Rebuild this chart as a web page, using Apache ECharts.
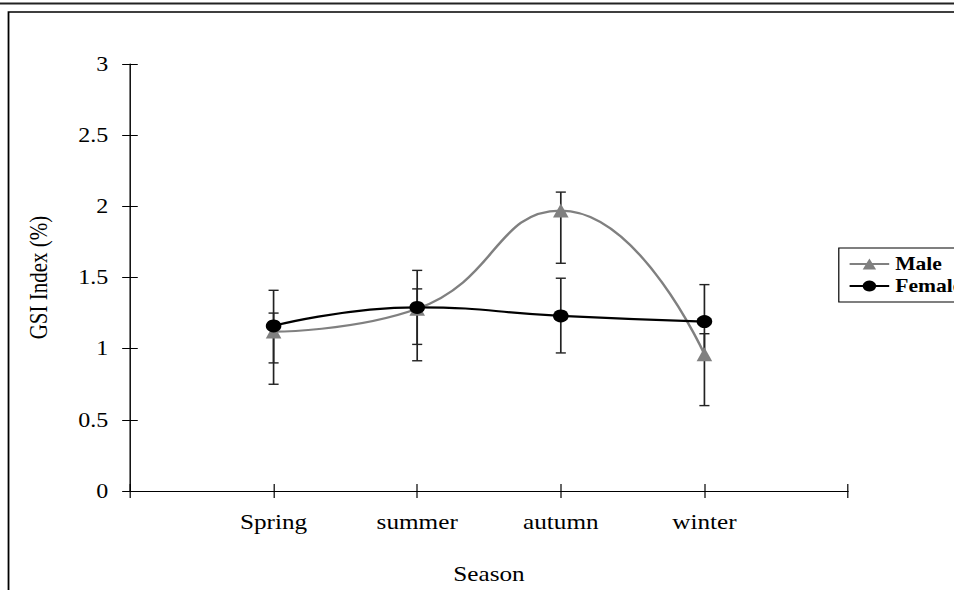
<!DOCTYPE html>
<html>
<head>
<meta charset="utf-8">
<script src="https://cdn.jsdelivr.net/npm/echarts@6/dist/echarts.min.js"></script>
<style>
  html, body { margin: 0; padding: 0; background: #fff; overflow: hidden; }
  #wrap { width: 954px; height: 590px; overflow: hidden; position: relative; }
  #chart { width: 795px; height: 590px; transform: scaleX(1.2); transform-origin: 0 0; }
</style>
</head>
<body>
<div id="wrap"><div id="chart"></div></div>
<script>
// ---- data ----
const categories = ['', 'Spring', 'summer', 'autumn', 'winter', ''];
const seasons = ['Spring', 'summer', 'autumn', 'winter'];
const maleValues = [1.12, 1.28, 1.97, 0.96];
const femaleValues = [1.16, 1.29, 1.23, 1.19];
const maleLow = [0.90, 0.915, 1.60, 0.60];
const maleHigh = [1.25, 1.42, 2.10, 1.105];
const femaleLow = [0.75, 1.03, 0.97, 0.93];
const femaleHigh = [1.41, 1.55, 1.495, 1.45];
const yTicks = { min: 0, max: 3, interval: 0.5 };

const FONT = '"Liberation Serif", "Times New Roman", serif';
const chart = echarts.init(document.getElementById('chart'), null, { renderer: 'svg' });

function errData(lo, hi) {
  return seasons.map((s, i) => [s, lo[i], hi[i]]);
}
function errRender(params, api) {
  const lo = api.coord([api.value(0), api.value(1)]);
  const hi = api.coord([api.value(0), api.value(2)]);
  const w = 4.2;
  const st = { stroke: '#222', lineWidth: 1.4 };
  return {
    type: 'group',
    children: [
      { type: 'line', shape: { x1: lo[0], y1: lo[1], x2: hi[0], y2: hi[1] }, style: st },
      { type: 'line', shape: { x1: lo[0] - w, y1: lo[1], x2: lo[0] + w, y2: lo[1] }, style: st },
      { type: 'line', shape: { x1: hi[0] - w, y1: hi[1], x2: hi[0] + w, y2: hi[1] }, style: st }
    ]
  };
}

const axisTxt = { fontFamily: FONT, fontSize: 21, color: '#000' };

chart.setOption({
  animation: false,
  backgroundColor: '#fff',
  grid: { left: 108.3, right: 88.3, top: 64, bottom: 99 },
  graphic: [
    { type: 'line', shape: { x1: 0, y1: 3.5, x2: 795, y2: 3.5 }, style: { stroke: '#222', lineWidth: 2 } },
    { type: 'rect', shape: { x: 7.1, y: 12, width: 900, height: 700 }, style: { fill: 'none', stroke: '#000', lineWidth: 1.5 } }
  ],
  legend: {
    data: ['Male', 'Female'],
    orient: 'vertical',
    left: 699,
    top: 248,
    padding: [7, 8, 7, 8],
    itemGap: 4,
    itemWidth: 33,
    itemHeight: 14,
    borderColor: '#000',
    borderWidth: 1,
    textStyle: { fontFamily: FONT, fontSize: 18, fontWeight: 'bold', color: '#000' }
  },
  xAxis: [
    {
      type: 'category', data: categories, boundaryGap: false,
      name: 'Season', nameLocation: 'middle', nameGap: 72, nameTextStyle: axisTxt,
      axisLine: { show: true, lineStyle: { color: '#000', width: 1.2 } },
      axisTick: { show: true, interval: 0, inside: false, length: 7, lineStyle: { color: '#000' } },
      axisLabel: { interval: 0, margin: 20, ...axisTxt },
      splitLine: { show: false }
    },
    {
      type: 'category', data: categories, boundaryGap: false, position: 'bottom', offset: 0,
      axisLine: { show: false },
      axisTick: { show: true, interval: 0, inside: true, length: 7, lineStyle: { color: '#000' } },
      axisLabel: { show: false },
      splitLine: { show: false }
    }
  ],
  yAxis: [
    {
      type: 'value', min: yTicks.min, max: yTicks.max, interval: yTicks.interval,
      name: 'GSI Index (%)', nameLocation: 'middle', nameGap: 66, nameTextStyle: axisTxt,
      axisLine: { show: true, lineStyle: { color: '#000', width: 1.2 } },
      axisTick: { show: true, inside: false, length: 6.5, lineStyle: { color: '#000' } },
      axisLabel: { margin: 18, fontFamily: FONT, fontSize: 20, color: '#000' },
      splitLine: { show: false }
    },
    {
      type: 'value', min: yTicks.min, max: yTicks.max, interval: yTicks.interval, position: 'left', offset: 0,
      axisLine: { show: false },
      axisTick: { show: true, inside: true, length: 6.5, lineStyle: { color: '#000' } },
      axisLabel: { show: false },
      splitLine: { show: false }
    }
  ],
  series: [
    {
      name: 'Male err', type: 'custom', renderItem: errRender, data: errData(maleLow, maleHigh),
      encode: { x: 0, y: [1, 2] }, z: 1, silent: true
    },
    {
      name: 'Female err', type: 'custom', renderItem: errRender, data: errData(femaleLow, femaleHigh),
      encode: { x: 0, y: [1, 2] }, z: 1, silent: true
    },
    {
      name: 'Male', type: 'line', smooth: 0.5, z: 3,
      data: seasons.map((s, i) => [s, maleValues[i]]),
      symbol: 'triangle', symbolSize: [13, 14],
      itemStyle: { color: '#808080' },
      lineStyle: { color: '#808080', width: 2.2 }
    },
    {
      name: 'Female', type: 'line', smooth: 0.5, z: 4,
      data: seasons.map((s, i) => [s, femaleValues[i]]),
      symbol: 'circle', symbolSize: 13,
      itemStyle: { color: '#000' },
      lineStyle: { color: '#000', width: 2.2 }
    }
  ]
});
</script>
</body>
</html>
